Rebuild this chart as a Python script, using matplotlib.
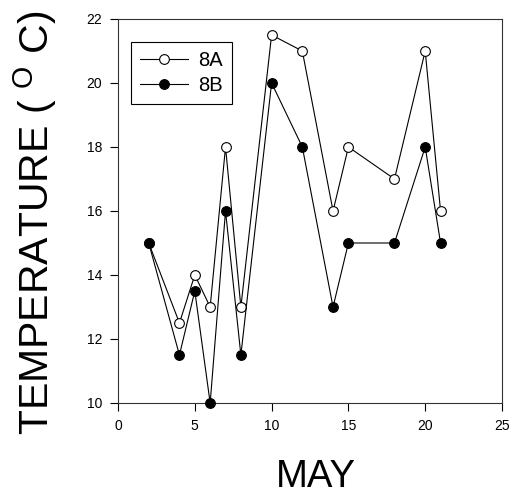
import matplotlib
matplotlib.use("Agg")
import matplotlib.pyplot as plt

plt.rcParams['font.family'] = ['Liberation Sans', 'DejaVu Sans']
plt.rcParams['mathtext.fontset'] = 'custom'
plt.rcParams['mathtext.rm'] = 'Liberation Sans'

# data
days = [2, 4, 5, 6, 7, 8, 10, 12, 14, 15, 18, 20, 21]
temp_8a = [15, 12.5, 14, 13, 18, 13, 21.5, 21, 16, 18, 17, 21, 16]
temp_8b = [15, 11.5, 13.5, 10, 16, 11.5, 20, 18, 13, 15, 15, 18, 15]
x_ticks = [0, 5, 10, 15, 20, 25]
y_ticks = [10, 12, 14, 16, 18, 20, 22]

fig = plt.figure(figsize=(5.09, 4.95), dpi=100)
ax = fig.add_axes([118 / 509, 1 - 403 / 495, (502 - 118) / 509, (403 - 19) / 495])

ax.plot(days, temp_8a, color='black', lw=0.8, marker='o', ms=7,
        mfc='white', mec='black', mew=0.8, label='8A', clip_on=False, zorder=3)
ax.plot(days, temp_8b, color='black', lw=0.8, marker='o', ms=7,
        mfc='black', mec='black', mew=0.8, label='8B', clip_on=False, zorder=4)

ax.set_xlim(0, 25)
ax.set_ylim(10, 22)
ax.set_xticks(x_ticks)
ax.set_yticks(y_ticks)
ax.tick_params(direction='out', length=5.5, width=0.8, labelsize=10, pad=6)
for s in ax.spines.values():
    s.set_linewidth(0.8)
    s.set_color('#333333')

# legend box sits near the top-left corner
leg = ax.legend(loc='upper left', bbox_to_anchor=(13 / 384, 361 / 384),
                borderaxespad=0, fontsize=14.5, handlelength=2.4,
                handletextpad=0.5, borderpad=0.45, labelspacing=0.3,
                fancybox=False, framealpha=1)
leg.get_frame().set_edgecolor('black')
leg.get_frame().set_linewidth(0.8)

fig.text(316 / 509, 1 - 487 / 495, 'MAY', fontsize=27.5, ha='center', va='baseline')
fig.text(35 / 509, 1 - 223 / 495, r'TEMPERATURE ( $^{\mathregular{O}}$ C)',
         fontsize=29.5, rotation=90, ha='center', va='center')

fig.savefig('out.png', dpi=100)
